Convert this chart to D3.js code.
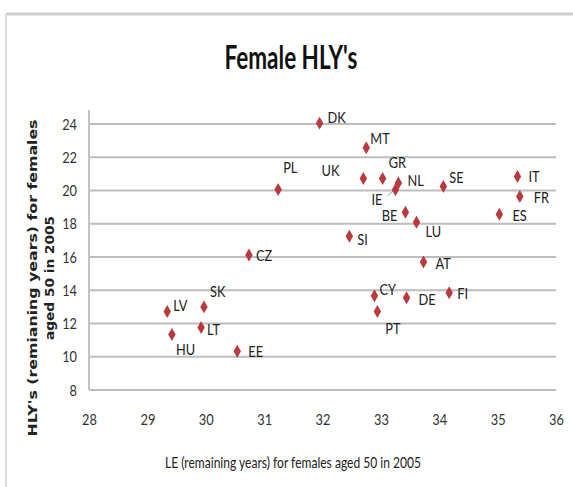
<!DOCTYPE html>
<html lang="en">
<head>
  <meta charset="UTF-8">
  <title>Female HLY's</title>
  <style>
    body, html {
      margin: 0;
      padding: 0;
      background: #fff;
    }
    .narrow {
      font-family: Lato, "Liberation Sans Narrow", sans-serif;
    }
  </style>
</head>
<body>
  <svg id="svg" width="573" height="487"></svg>

  <script src="https://cdn.jsdelivr.net/npm/d3@7"></script>
  <script>
    // country codes, LE (x) and HLY (y) for females aged 50 in 2005
    const countries = ['DK', 'MT', 'UK', 'GR', 'NL', 'IE', 'SE', 'IT', 'FR', 'ES', 'BE', 'LU', 'SI', 'AT',
      'CY', 'DE', 'FI', 'PT', 'PL', 'CZ', 'LV', 'SK', 'LT', 'HU', 'EE'];
    const leValues = [31.95, 32.75, 32.7, 33.03, 33.3, 33.25, 34.07, 35.34, 35.38, 35.03, 33.42, 33.61, 32.46, 33.73,
      32.89, 33.44, 34.17, 32.94, 31.24, 30.74, 29.34, 29.97, 29.92, 29.42, 30.54];
    const hlyValues = [24.05, 22.57, 20.72, 20.72, 20.45, 20.05, 20.24, 20.84, 19.64, 18.57, 18.69, 18.09, 17.25, 15.7,
      13.67, 13.55, 13.85, 12.72, 20.06, 16.12, 12.72, 13.0, 11.76, 11.34, 10.33];
    const xTicks = [28, 29, 30, 31, 32, 33, 34, 35, 36];
    const yTicks = [8, 10, 12, 14, 16, 18, 20, 22, 24];

    // label placement relative to marker: [dx, dy, anchor]
    const labelPos = {
      DK: [8, -6, 'start'], MT: [4, -9, 'start'], UK: [-24, -8, 'end'], GR: [6, -16, 'start'],
      NL: [9, -3, 'start'], IE: [-13, 10, 'end'], SE: [6, -9, 'start'], IT: [11, 0, 'start'],
      FR: [14, 1, 'start'], ES: [13, 1, 'start'], BE: [-8, 3, 'end'], LU: [9, 9, 'start'],
      SI: [8, 3, 'start'], AT: [12, 1, 'start'], CY: [5, -6, 'start'], DE: [12, 2, 'start'],
      FI: [8, 1, 'start'], PT: [8, 17, 'start'], PL: [5, -22, 'start'], CZ: [7, 0, 'start'],
      LV: [6, -6, 'start'], SK: [6, -15, 'start'], LT: [6, 2, 'start'], HU: [4, 15, 'start'],
      EE: [11, 0, 'start']
    };

    const data = countries.map((c, i) => ({ code: c, le: leValues[i], hly: hlyValues[i] }));

    const svg = d3.select('#svg');
    const squeeze = 0.8; // horizontal squeeze to mimic a condensed face

    // outer chart frame
    svg.append('line').attr('x1', 6).attr('x2', 573).attr('y1', 14).attr('y2', 14)
      .attr('stroke', '#cfcfcf').attr('stroke-width', 3);
    svg.append('line').attr('x1', 6).attr('x2', 6).attr('y1', 14).attr('y2', 487)
      .attr('stroke', '#dcdcdc').attr('stroke-width', 2);

    const xScale = d3.scaleLinear().domain([28, 36]).range([89, 556]);
    const yScale = d3.scaleLinear().domain([8, 24]).range([390, 124]);

    // gridlines
    svg.append('g')
      .selectAll('line')
      .data(yTicks)
      .enter()
      .append('line')
      .attr('x1', xScale(28))
      .attr('x2', xScale(36))
      .attr('y1', d => yScale(d))
      .attr('y2', d => yScale(d))
      .attr('stroke', '#bdbdbd')
      .attr('stroke-width', 2);

    // vertical axis line
    svg.append('line')
      .attr('x1', xScale(28)).attr('x2', xScale(28))
      .attr('y1', yScale(24) - 14).attr('y2', yScale(8))
      .attr('stroke', '#c4c4c4').attr('stroke-width', 2);

    const yAxis = svg.append('g')
      .attr('transform', `translate(${xScale(28)},0)`)
      .call(d3.axisLeft(yScale).tickValues(yTicks).tickSize(0).tickPadding(12));
    yAxis.select('.domain').remove();
    yAxis.selectAll('text')
      .attr('class', 'narrow')
      .attr('transform', `scale(${squeeze},1)`)
      .attr('x', -12 / squeeze)
      .style('font-size', '16px')
      .attr('fill', '#333');

    const xAxis = svg.append('g')
      .attr('transform', `translate(0,${yScale(8)})`)
      .call(d3.axisBottom(xScale).tickValues(xTicks).tickSize(0).tickPadding(24));
    xAxis.select('.domain').remove();
    xAxis.selectAll('text')
      .attr('class', 'narrow')
      .attr('transform', `scale(${squeeze},1)`)
      .style('font-size', '16px')
      .attr('fill', '#333');

    // IE leader line
    const ie = data.find(d => d.code === 'IE');
    svg.append('line')
      .attr('x1', xScale(ie.le) - 8).attr('y1', yScale(ie.hly) + 6)
      .attr('x2', xScale(ie.le) - 2).attr('y2', yScale(ie.hly) + 1)
      .attr('stroke', '#999').attr('stroke-width', 1);

    // markers
    svg.append('g')
      .selectAll('path')
      .data(data)
      .enter()
      .append('path')
      .attr('d', d3.symbol().type(d3.symbolDiamond).size(48))
      .attr('transform', d => `translate(${xScale(d.le)},${yScale(d.hly)})`)
      .attr('fill', '#b83a3f');

    // point labels
    svg.append('g')
      .selectAll('text')
      .data(data)
      .enter()
      .append('text')
      .attr('class', 'narrow')
      .attr('transform', d => `translate(${xScale(d.le) + labelPos[d.code][0]},${yScale(d.hly) + labelPos[d.code][1]}) scale(${squeeze},1)`)
      .attr('dy', '0.35em')
      .attr('text-anchor', d => labelPos[d.code][2])
      .style('font-size', '16px')
      .attr('fill', '#222')
      .text(d => d.code);

    // title
    svg.append('text')
      .attr('class', 'narrow')
      .attr('x', 291)
      .attr('y', 69)
      .attr('text-anchor', 'middle')
      .attr('textLength', 133)
      .attr('lengthAdjust', 'spacingAndGlyphs')
      .style('font-size', '32px')
      .style('font-weight', 'bold')
      .attr('fill', '#111')
      .text("Female HLY's");

    // x axis title
    svg.append('text')
      .attr('class', 'narrow')
      .attr('x', 293)
      .attr('y', 468)
      .attr('text-anchor', 'middle')
      .attr('textLength', 256)
      .attr('lengthAdjust', 'spacingAndGlyphs')
      .style('font-size', '16px')
      .attr('fill', '#222')
      .text('LE (remaining years) for females aged 50 in 2005');

    // y axis title (two lines)
    const yTitle = svg.append('text')
      .attr('transform', 'translate(0,278) rotate(-90)')
      .attr('text-anchor', 'middle')
      .style('font-family', '"DejaVu Sans", Verdana, sans-serif')
      .style('font-size', '12px')
      .style('font-weight', 'bold')
      .attr('fill', '#222');
    yTitle.append('tspan').attr('x', 0).attr('y', 37)
      .attr('textLength', 317).attr('lengthAdjust', 'spacingAndGlyphs')
      .text("HLY's (remianing years) for females");
    yTitle.append('tspan').attr('x', 0).attr('y', 54)
      .attr('textLength', 124).attr('lengthAdjust', 'spacingAndGlyphs')
      .text('aged 50 in 2005');
  </script>
</body>
</html>
